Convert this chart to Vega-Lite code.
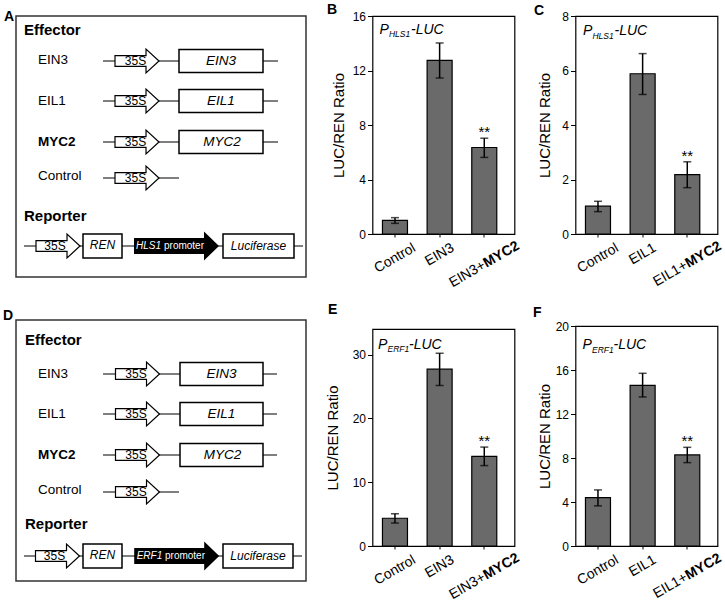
{
  "$schema": "https://vega.github.io/schema/vega-lite/v6.json",
  "background": "white",
  "padding": {"left": 2, "top": 2, "right": 0, "bottom": 0},
  "config": {"font": "Liberation Sans", "title": {"color": "black"}, "text": {"color": "black"}},
  "datasets": {
    "bars": [
      {"panel": "B", "cond": "Control", "base": "Control", "bold": "", "value": 1.0, "lo": 0.78, "hi": 1.2, "sig": ""},
      {"panel": "B", "cond": "EIN3", "base": "EIN3", "bold": "", "value": 12.75, "lo": 11.45, "hi": 14.02, "sig": ""},
      {"panel": "B", "cond": "EIN3+MYC2", "base": "EIN3+", "bold": "MYC2", "value": 6.35, "lo": 5.62, "hi": 7.03, "sig": "**"},
      {"panel": "C", "cond": "Control", "base": "Control", "bold": "", "value": 1.02, "lo": 0.82, "hi": 1.2, "sig": ""},
      {"panel": "C", "cond": "EIL1", "base": "EIL1", "bold": "", "value": 5.88, "lo": 5.12, "hi": 6.62, "sig": ""},
      {"panel": "C", "cond": "EIL1+MYC2", "base": "EIL1+", "bold": "MYC2", "value": 2.18, "lo": 1.7, "hi": 2.65, "sig": "**"},
      {"panel": "E", "cond": "Control", "base": "Control", "bold": "", "value": 4.35, "lo": 3.6, "hi": 5.05, "sig": ""},
      {"panel": "E", "cond": "EIN3", "base": "EIN3", "bold": "", "value": 27.7, "lo": 25.15, "hi": 30.2, "sig": ""},
      {"panel": "E", "cond": "EIN3+MYC2", "base": "EIN3+", "bold": "MYC2", "value": 14.05, "lo": 12.6, "hi": 15.5, "sig": "**"},
      {"panel": "F", "cond": "Control", "base": "Control", "bold": "", "value": 4.4, "lo": 3.65, "hi": 5.1, "sig": ""},
      {"panel": "F", "cond": "EIL1", "base": "EIL1", "bold": "", "value": 14.6, "lo": 13.55, "hi": 15.7, "sig": ""},
      {"panel": "F", "cond": "EIL1+MYC2", "base": "EIL1+", "bold": "MYC2", "value": 8.28, "lo": 7.58, "hi": 8.97, "sig": "**"}
    ],
    "diagram": [
      {"panel": "A", "kind": "heading", "label": "Effector", "x": 8, "y": 13.5},
      {"panel": "A", "kind": "heading", "label": "Reporter", "x": 8, "y": 200},
      {"panel": "A", "kind": "name", "label": "EIN3", "x": 22, "y": 43.5},
      {"panel": "A", "kind": "name", "label": "EIL1", "x": 22, "y": 85},
      {"panel": "A", "kind": "nameBold", "label": "MYC2", "x": 22, "y": 126},
      {"panel": "A", "kind": "name", "label": "Control", "x": 22, "y": 160},
      {"panel": "A", "kind": "line", "x": 87, "x2": 262, "y": 45},
      {"panel": "A", "kind": "line", "x": 87, "x2": 262, "y": 85},
      {"panel": "A", "kind": "line", "x": 87, "x2": 262, "y": 126},
      {"panel": "A", "kind": "line", "x": 87, "x2": 163, "y": 162},
      {"panel": "A", "kind": "line", "x": 8, "x2": 287, "y": 230},
      {"panel": "A", "kind": "p35S", "x": 121, "y": 45},
      {"panel": "A", "kind": "p35S", "x": 121, "y": 85},
      {"panel": "A", "kind": "p35S", "x": 121, "y": 126},
      {"panel": "A", "kind": "p35S", "x": 121, "y": 162},
      {"panel": "A", "kind": "p35S", "x": 42, "y": 230},
      {"panel": "A", "kind": "t35S", "label": "35S", "x": 119.5, "y": 45},
      {"panel": "A", "kind": "t35S", "label": "35S", "x": 119.5, "y": 85},
      {"panel": "A", "kind": "t35S", "label": "35S", "x": 119.5, "y": 126},
      {"panel": "A", "kind": "t35S", "label": "35S", "x": 119.5, "y": 162},
      {"panel": "A", "kind": "t35S", "label": "35S", "x": 39, "y": 230},
      {"panel": "A", "kind": "box", "x": 163, "x2": 247, "y": 33.5, "y2": 56.5},
      {"panel": "A", "kind": "box", "x": 163, "x2": 247, "y": 73.5, "y2": 96.5},
      {"panel": "A", "kind": "box", "x": 163, "x2": 247, "y": 114.5, "y2": 137.5},
      {"panel": "A", "kind": "box", "x": 67, "x2": 106, "y": 218, "y2": 242},
      {"panel": "A", "kind": "box", "x": 207, "x2": 278, "y": 218, "y2": 242},
      {"panel": "A", "kind": "gene", "label": "EIN3", "x": 205, "y": 45},
      {"panel": "A", "kind": "gene", "label": "EIL1", "x": 205, "y": 85},
      {"panel": "A", "kind": "gene", "label": "MYC2", "x": 206, "y": 126},
      {"panel": "A", "kind": "geneSmall", "label": "REN", "x": 86.5, "y": 229},
      {"panel": "A", "kind": "geneSmall", "label": "Luciferase", "x": 242.5, "y": 230},
      {"panel": "A", "kind": "promoter", "x": 160.5, "y": 230},
      {"panel": "A", "kind": "promName", "label": "HLS1", "x": 120, "y": 230},
      {"panel": "A", "kind": "promWord", "label": "promoter", "x": 148, "y": 230},
      {"panel": "D", "kind": "heading", "label": "Effector", "x": 9, "y": 20.3},
      {"panel": "D", "kind": "heading", "label": "Reporter", "x": 9, "y": 203.7},
      {"panel": "D", "kind": "name", "label": "EIN3", "x": 22, "y": 53.5},
      {"panel": "D", "kind": "name", "label": "EIL1", "x": 22, "y": 94},
      {"panel": "D", "kind": "nameBold", "label": "MYC2", "x": 22, "y": 135},
      {"panel": "D", "kind": "name", "label": "Control", "x": 22, "y": 170},
      {"panel": "D", "kind": "line", "x": 87, "x2": 261, "y": 54},
      {"panel": "D", "kind": "line", "x": 87, "x2": 261, "y": 94},
      {"panel": "D", "kind": "line", "x": 87, "x2": 261, "y": 135},
      {"panel": "D", "kind": "line", "x": 87, "x2": 163, "y": 172},
      {"panel": "D", "kind": "line", "x": 8, "x2": 286, "y": 236},
      {"panel": "D", "kind": "p35S", "x": 121.5, "y": 54},
      {"panel": "D", "kind": "p35S", "x": 121.5, "y": 94},
      {"panel": "D", "kind": "p35S", "x": 121.5, "y": 135},
      {"panel": "D", "kind": "p35S", "x": 121.5, "y": 172},
      {"panel": "D", "kind": "p35S", "x": 41.5, "y": 236},
      {"panel": "D", "kind": "t35S", "label": "35S", "x": 120, "y": 54},
      {"panel": "D", "kind": "t35S", "label": "35S", "x": 120, "y": 94},
      {"panel": "D", "kind": "t35S", "label": "35S", "x": 120, "y": 135},
      {"panel": "D", "kind": "t35S", "label": "35S", "x": 120, "y": 172},
      {"panel": "D", "kind": "t35S", "label": "35S", "x": 38.5, "y": 236},
      {"panel": "D", "kind": "box", "x": 164, "x2": 247, "y": 42.5, "y2": 65.5},
      {"panel": "D", "kind": "box", "x": 164, "x2": 247, "y": 82.5, "y2": 105.5},
      {"panel": "D", "kind": "box", "x": 164, "x2": 247, "y": 123.5, "y2": 146.5},
      {"panel": "D", "kind": "box", "x": 67, "x2": 106, "y": 224, "y2": 248},
      {"panel": "D", "kind": "box", "x": 207, "x2": 277, "y": 224, "y2": 248},
      {"panel": "D", "kind": "gene", "label": "EIN3", "x": 205.5, "y": 54},
      {"panel": "D", "kind": "gene", "label": "EIL1", "x": 205.5, "y": 94},
      {"panel": "D", "kind": "gene", "label": "MYC2", "x": 206.5, "y": 135},
      {"panel": "D", "kind": "geneSmall", "label": "REN", "x": 86.5, "y": 235},
      {"panel": "D", "kind": "geneSmall", "label": "Luciferase", "x": 242, "y": 236},
      {"panel": "D", "kind": "promoter", "x": 160.7, "y": 236},
      {"panel": "D", "kind": "promName", "label": "ERF1", "x": 120.7, "y": 236},
      {"panel": "D", "kind": "promWord", "label": "promoter", "x": 149, "y": 236}
    ]
  },
  "spacing": 17.5,
  "hconcat": [
    {
      "spacing": 30,
      "vconcat": [
        {
          "width": 290, "height": 261,
          "view": {"stroke": "#333333", "strokeWidth": 1.5},
          "title": {"text": "A", "anchor": "start", "frame": "bounds", "fontSize": 14, "fontWeight": "bold", "baseline": "alphabetic", "offset": -19, "dx": -12},
          "data": {"name": "diagram"},
          "transform": [{"filter": "datum.panel === 'A'"}],
          "encoding": {
            "x": {"field": "x", "type": "quantitative", "scale": {"domain": [0, 290], "nice": false, "zero": false}, "axis": null},
            "y": {"field": "y", "type": "quantitative", "scale": {"domain": [0, 261], "reverse": true, "nice": false, "zero": false}, "axis": null}
          },
          "layer": [
            {"transform": [{"filter": "datum.kind === 'line'"}], "mark": {"type": "rule", "color": "black", "strokeWidth": 1.2}, "encoding": {"x2": {"field": "x2"}}},
            {"transform": [{"filter": "datum.kind === 'box'"}], "mark": {"type": "rect", "fill": "white", "stroke": "black", "strokeWidth": 1.5}, "encoding": {"x2": {"field": "x2"}, "y2": {"field": "y2"}}},
            {"transform": [{"filter": "datum.kind === 'p35S'"}], "mark": {"type": "point", "shape": "M-1,-0.24L0.41,-0.24L0.41,-0.545L1,0L0.41,0.545L0.41,0.24L-1,0.24Z", "size": 1936, "filled": true, "fill": "white", "stroke": "black", "strokeWidth": 1.2, "opacity": 1}, "encoding": {}},
            {"transform": [{"filter": "datum.kind === 'promoter'"}], "mark": {"type": "point", "shape": "M-1,-0.188L0.647,-0.188L0.647,-0.341L1,0L0.647,0.341L0.647,0.188L-1,0.188Z", "size": 7225, "filled": true, "fill": "black", "opacity": 1}, "encoding": {}},
            {"transform": [{"filter": "datum.kind === 'heading'"}], "mark": {"type": "text", "align": "left", "baseline": "middle", "fontSize": 15, "fontWeight": "bold"}, "encoding": {"text": {"field": "label"}}},
            {"transform": [{"filter": "datum.kind === 'name'"}], "mark": {"type": "text", "align": "left", "baseline": "middle", "fontSize": 13.5}, "encoding": {"text": {"field": "label"}}},
            {"transform": [{"filter": "datum.kind === 'nameBold'"}], "mark": {"type": "text", "align": "left", "baseline": "middle", "fontSize": 13.5, "fontWeight": "bold"}, "encoding": {"text": {"field": "label"}}},
            {"transform": [{"filter": "datum.kind === 't35S'"}], "mark": {"type": "text", "align": "center", "baseline": "middle", "fontSize": 12}, "encoding": {"text": {"field": "label"}}},
            {"transform": [{"filter": "datum.kind === 'gene'"}], "mark": {"type": "text", "align": "center", "baseline": "middle", "fontSize": 13.5, "fontStyle": "italic"}, "encoding": {"text": {"field": "label"}}},
            {"transform": [{"filter": "datum.kind === 'geneSmall'"}], "mark": {"type": "text", "align": "center", "baseline": "middle", "fontSize": 12, "fontStyle": "italic"}, "encoding": {"text": {"field": "label"}}},
            {"transform": [{"filter": "datum.kind === 'promName'"}], "mark": {"type": "text", "align": "left", "baseline": "middle", "fontSize": 10, "fontStyle": "italic", "color": "white"}, "encoding": {"text": {"field": "label"}}},
            {"transform": [{"filter": "datum.kind === 'promWord'"}], "mark": {"type": "text", "align": "left", "baseline": "middle", "fontSize": 10, "color": "white"}, "encoding": {"text": {"field": "label"}}}
          ]
        },
        {
          "width": 290, "height": 261,
          "view": {"stroke": "#333333", "strokeWidth": 1.5},
          "title": {"text": "D", "anchor": "start", "frame": "bounds", "fontSize": 14, "fontWeight": "bold", "baseline": "alphabetic", "offset": -14, "dx": -13},
          "data": {"name": "diagram"},
          "transform": [{"filter": "datum.panel === 'D'"}],
          "encoding": {
            "x": {"field": "x", "type": "quantitative", "scale": {"domain": [0, 290], "nice": false, "zero": false}, "axis": null},
            "y": {"field": "y", "type": "quantitative", "scale": {"domain": [0, 261], "reverse": true, "nice": false, "zero": false}, "axis": null}
          },
          "layer": [
            {"transform": [{"filter": "datum.kind === 'line'"}], "mark": {"type": "rule", "color": "black", "strokeWidth": 1.2}, "encoding": {"x2": {"field": "x2"}}},
            {"transform": [{"filter": "datum.kind === 'box'"}], "mark": {"type": "rect", "fill": "white", "stroke": "black", "strokeWidth": 1.5}, "encoding": {"x2": {"field": "x2"}, "y2": {"field": "y2"}}},
            {"transform": [{"filter": "datum.kind === 'p35S'"}], "mark": {"type": "point", "shape": "M-1,-0.24L0.41,-0.24L0.41,-0.545L1,0L0.41,0.545L0.41,0.24L-1,0.24Z", "size": 1936, "filled": true, "fill": "white", "stroke": "black", "strokeWidth": 1.2, "opacity": 1}, "encoding": {}},
            {"transform": [{"filter": "datum.kind === 'promoter'"}], "mark": {"type": "point", "shape": "M-1,-0.188L0.647,-0.188L0.647,-0.341L1,0L0.647,0.341L0.647,0.188L-1,0.188Z", "size": 7225, "filled": true, "fill": "black", "opacity": 1}, "encoding": {}},
            {"transform": [{"filter": "datum.kind === 'heading'"}], "mark": {"type": "text", "align": "left", "baseline": "middle", "fontSize": 15, "fontWeight": "bold"}, "encoding": {"text": {"field": "label"}}},
            {"transform": [{"filter": "datum.kind === 'name'"}], "mark": {"type": "text", "align": "left", "baseline": "middle", "fontSize": 13.5}, "encoding": {"text": {"field": "label"}}},
            {"transform": [{"filter": "datum.kind === 'nameBold'"}], "mark": {"type": "text", "align": "left", "baseline": "middle", "fontSize": 13.5, "fontWeight": "bold"}, "encoding": {"text": {"field": "label"}}},
            {"transform": [{"filter": "datum.kind === 't35S'"}], "mark": {"type": "text", "align": "center", "baseline": "middle", "fontSize": 12}, "encoding": {"text": {"field": "label"}}},
            {"transform": [{"filter": "datum.kind === 'gene'"}], "mark": {"type": "text", "align": "center", "baseline": "middle", "fontSize": 13.5, "fontStyle": "italic"}, "encoding": {"text": {"field": "label"}}},
            {"transform": [{"filter": "datum.kind === 'geneSmall'"}], "mark": {"type": "text", "align": "center", "baseline": "middle", "fontSize": 12, "fontStyle": "italic"}, "encoding": {"text": {"field": "label"}}},
            {"transform": [{"filter": "datum.kind === 'promName'"}], "mark": {"type": "text", "align": "left", "baseline": "middle", "fontSize": 10, "fontStyle": "italic", "color": "white"}, "encoding": {"text": {"field": "label"}}},
            {"transform": [{"filter": "datum.kind === 'promWord'"}], "mark": {"type": "text", "align": "left", "baseline": "middle", "fontSize": 10, "color": "white"}, "encoding": {"text": {"field": "label"}}}
          ]
        }
      ]
    },
    {
      "spacing": 9,
      "hconcat": [
        {
          "spacing": 11,
          "vconcat": [
            {
              "width": 142, "height": 218,
              "view": {"stroke": "black", "strokeWidth": 1.2},
              "title": {"text": "B", "anchor": "start", "frame": "bounds", "fontSize": 14, "fontWeight": "bold", "baseline": "alphabetic", "offset": -18, "dx": -4.5},
              "data": {"name": "bars"},
              "transform": [{"filter": "datum.panel === 'B'"}],
              "encoding": {
                "x": {"field": "cond", "type": "nominal", "sort": null, "title": null, "scale": {"paddingInner": 0.44, "paddingOuter": 0.31, "align": 0.36}, "axis": {"labels": false, "domain": false, "ticks": true, "tickSize": 3, "tickColor": "black"}}
              },
              "layer": [
                {"mark": {"type": "bar", "fill": "#6a6a6a", "stroke": "black", "strokeWidth": 1.2},
                 "encoding": {"y": {"field": "value", "type": "quantitative", "title": "LUC/REN Ratio", "scale": {"domain": [0, 16], "nice": false},
                   "axis": {"values": [0,1,2,3,4,5,6,7,8,9,10,11,12,13,14,15,16], "labelExpr": "datum.value % 4 === 0 ? datum.label : ''", "tickSize": {"condition": {"test": "datum.value % 4 === 0", "value": 5}, "value": 3}, "grid": false, "domain": false, "labelFontSize": 12, "labelPadding": 2, "titleFontSize": 15, "titleFontWeight": "normal", "titleX": -34, "titleY": 109, "titleAngle": -90, "titleAlign": "center", "titleBaseline": "middle", "tickColor": "black", "labelColor": "black", "titleColor": "black"}}}},
                {"mark": {"type": "errorbar", "ticks": {"size": 8, "thickness": 1.5, "color": "black"}, "rule": {"strokeWidth": 1.5, "color": "black"}},
                 "encoding": {"y": {"field": "lo", "type": "quantitative", "title": "LUC/REN Ratio"}, "y2": {"field": "hi"}}},
                {"transform": [{"filter": "datum.sig !== ''"}], "mark": {"type": "text", "fontSize": 15, "baseline": "alphabetic", "dy": -1},
                 "encoding": {"y": {"field": "hi", "type": "quantitative", "title": "LUC/REN Ratio"}, "text": {"field": "sig"}}},
                {"transform": [{"filter": "datum.cond === 'Control'"}], "mark": {"type": "text", "text": "P", "fontSize": 14, "fontStyle": "italic", "align": "left", "baseline": "alphabetic", "dx": -15.5},
                 "encoding": {"y": {"datum": 14.68, "type": "quantitative"}}},
                {"transform": [{"filter": "datum.cond === 'Control'"}], "mark": {"type": "text", "text": "HLS1", "fontSize": 8.5, "fontStyle": "italic", "align": "left", "baseline": "alphabetic", "dx": -6, "dy": 3.5},
                 "encoding": {"y": {"datum": 14.68, "type": "quantitative"}}},
                {"transform": [{"filter": "datum.cond === 'Control'"}], "mark": {"type": "text", "text": "-LUC", "fontSize": 14, "fontStyle": "italic", "align": "left", "baseline": "alphabetic", "dx": 16},
                 "encoding": {"y": {"datum": 14.68, "type": "quantitative"}}},
                {"transform": [{"filter": "datum.cond === 'Control'"}], "mark": {"type": "text", "angle": -30, "align": "center", "baseline": "middle", "dx": -12.15, "dy": 21, "fontSize": 14},
                 "encoding": {"y": {"datum": 0, "type": "quantitative"}, "text": {"field": "base"}}},
                {"transform": [{"filter": "datum.bold === '' && datum.cond !== 'Control'"}], "mark": {"type": "text", "angle": -30, "align": "center", "baseline": "middle", "dx": -10.4, "dy": 18, "fontSize": 14},
                 "encoding": {"y": {"datum": 0, "type": "quantitative"}, "text": {"field": "base"}}},
                {"transform": [{"filter": "datum.bold !== ''"}], "mark": {"type": "text", "angle": -30, "align": "left", "baseline": "middle", "dx": -54.35, "dy": 26.4, "fontSize": 14},
                 "encoding": {"y": {"datum": 0, "type": "quantitative"}, "text": {"field": "base"}}},
                {"transform": [{"filter": "datum.bold !== ''"}], "mark": {"type": "text", "angle": -30, "align": "right", "baseline": "middle", "dx": 23.85, "dy": 26.4, "fontSize": 14, "fontWeight": "bold"},
                 "encoding": {"y": {"datum": 0, "type": "quantitative"}, "text": {"field": "bold"}}}
              ]
            },
            {
              "width": 142, "height": 217,
              "view": {"stroke": "black", "strokeWidth": 1.2},
              "title": {"text": "E", "anchor": "start", "frame": "bounds", "fontSize": 14, "fontWeight": "bold", "baseline": "alphabetic", "offset": 1, "dx": 2.5},
              "data": {"name": "bars"},
              "transform": [{"filter": "datum.panel === 'E'"}],
              "encoding": {
                "x": {"field": "cond", "type": "nominal", "sort": null, "title": null, "scale": {"paddingInner": 0.44, "paddingOuter": 0.31, "align": 0.36}, "axis": {"labels": false, "domain": false, "ticks": true, "tickSize": 3, "tickColor": "black"}}
              },
              "layer": [
                {"mark": {"type": "bar", "fill": "#6a6a6a", "stroke": "black", "strokeWidth": 1.2},
                 "encoding": {"y": {"field": "value", "type": "quantitative", "title": "LUC/REN Ratio", "scale": {"domain": [0, 34], "nice": false},
                   "axis": {"values": [0,2.5,5,7.5,10,12.5,15,17.5,20,22.5,25,27.5,30,32.5], "labelExpr": "datum.value % 5 === 0 ? datum.label : ''", "tickSize": {"condition": {"test": "datum.value % 5 === 0", "value": 5}, "value": 3}, "grid": false, "domain": false, "labelFontSize": 12, "labelPadding": 2, "titleFontSize": 15, "titleFontWeight": "normal", "titleX": -40, "titleY": 108.5, "titleAngle": -90, "titleAlign": "center", "titleBaseline": "middle", "tickColor": "black", "labelColor": "black", "titleColor": "black"}}}},
                {"mark": {"type": "errorbar", "ticks": {"size": 8, "thickness": 1.5, "color": "black"}, "rule": {"strokeWidth": 1.5, "color": "black"}},
                 "encoding": {"y": {"field": "lo", "type": "quantitative", "title": "LUC/REN Ratio"}, "y2": {"field": "hi"}}},
                {"transform": [{"filter": "datum.sig !== ''"}], "mark": {"type": "text", "fontSize": 15, "baseline": "alphabetic", "dy": -1},
                 "encoding": {"y": {"field": "hi", "type": "quantitative", "title": "LUC/REN Ratio"}, "text": {"field": "sig"}}},
                {"transform": [{"filter": "datum.cond === 'Control'"}], "mark": {"type": "text", "text": "P", "fontSize": 14, "fontStyle": "italic", "align": "left", "baseline": "alphabetic", "dx": -17},
                 "encoding": {"y": {"datum": 30.9, "type": "quantitative"}}},
                {"transform": [{"filter": "datum.cond === 'Control'"}], "mark": {"type": "text", "text": "ERF1", "fontSize": 8.5, "fontStyle": "italic", "align": "left", "baseline": "alphabetic", "dx": -7.5, "dy": 3.5},
                 "encoding": {"y": {"datum": 30.9, "type": "quantitative"}}},
                {"transform": [{"filter": "datum.cond === 'Control'"}], "mark": {"type": "text", "text": "-LUC", "fontSize": 14, "fontStyle": "italic", "align": "left", "baseline": "alphabetic", "dx": 14},
                 "encoding": {"y": {"datum": 30.9, "type": "quantitative"}}},
                {"transform": [{"filter": "datum.cond === 'Control'"}], "mark": {"type": "text", "angle": -30, "align": "center", "baseline": "middle", "dx": -12.15, "dy": 21, "fontSize": 14},
                 "encoding": {"y": {"datum": 0, "type": "quantitative"}, "text": {"field": "base"}}},
                {"transform": [{"filter": "datum.bold === '' && datum.cond !== 'Control'"}], "mark": {"type": "text", "angle": -30, "align": "center", "baseline": "middle", "dx": -10.4, "dy": 18, "fontSize": 14},
                 "encoding": {"y": {"datum": 0, "type": "quantitative"}, "text": {"field": "base"}}},
                {"transform": [{"filter": "datum.bold !== ''"}], "mark": {"type": "text", "angle": -30, "align": "left", "baseline": "middle", "dx": -54.35, "dy": 26.4, "fontSize": 14},
                 "encoding": {"y": {"datum": 0, "type": "quantitative"}, "text": {"field": "base"}}},
                {"transform": [{"filter": "datum.bold !== ''"}], "mark": {"type": "text", "angle": -30, "align": "right", "baseline": "middle", "dx": 23.85, "dy": 26.4, "fontSize": 14, "fontWeight": "bold"},
                 "encoding": {"y": {"datum": 0, "type": "quantitative"}, "text": {"field": "bold"}}}
              ]
            }
          ]
        },
        {
          "spacing": 15,
          "vconcat": [
            {
              "width": 142, "height": 218,
              "view": {"stroke": "black", "strokeWidth": 1.2},
              "title": {"text": "C", "anchor": "start", "frame": "bounds", "fontSize": 14, "fontWeight": "bold", "baseline": "alphabetic", "offset": -19, "dx": -3.5},
              "data": {"name": "bars"},
              "transform": [{"filter": "datum.panel === 'C'"}],
              "encoding": {
                "x": {"field": "cond", "type": "nominal", "sort": null, "title": null, "scale": {"paddingInner": 0.44, "paddingOuter": 0.31, "align": 0.36}, "axis": {"labels": false, "domain": false, "ticks": true, "tickSize": 3, "tickColor": "black"}}
              },
              "layer": [
                {"mark": {"type": "bar", "fill": "#6a6a6a", "stroke": "black", "strokeWidth": 1.2},
                 "encoding": {"y": {"field": "value", "type": "quantitative", "title": "LUC/REN Ratio", "scale": {"domain": [0, 8], "nice": false},
                   "axis": {"values": [0,0.5,1,1.5,2,2.5,3,3.5,4,4.5,5,5.5,6,6.5,7,7.5,8], "labelExpr": "datum.value % 1 === 0 ? datum.label : ''", "tickSize": {"condition": {"test": "datum.value % 1 === 0", "value": 5}, "value": 3}, "grid": false, "domain": false, "labelFontSize": 12, "labelPadding": 2, "titleFontSize": 15, "titleFontWeight": "normal", "titleX": -31, "titleY": 109, "titleAngle": -90, "titleAlign": "center", "titleBaseline": "middle", "tickColor": "black", "labelColor": "black", "titleColor": "black"}}}},
                {"mark": {"type": "errorbar", "ticks": {"size": 8, "thickness": 1.5, "color": "black"}, "rule": {"strokeWidth": 1.5, "color": "black"}},
                 "encoding": {"y": {"field": "lo", "type": "quantitative", "title": "LUC/REN Ratio"}, "y2": {"field": "hi"}}},
                {"transform": [{"filter": "datum.sig !== ''"}], "mark": {"type": "text", "fontSize": 15, "baseline": "alphabetic", "dy": -1},
                 "encoding": {"y": {"field": "hi", "type": "quantitative", "title": "LUC/REN Ratio"}, "text": {"field": "sig"}}},
                {"transform": [{"filter": "datum.cond === 'Control'"}], "mark": {"type": "text", "text": "P", "fontSize": 14, "fontStyle": "italic", "align": "left", "baseline": "alphabetic", "dx": -15},
                 "encoding": {"y": {"datum": 7.29, "type": "quantitative"}}},
                {"transform": [{"filter": "datum.cond === 'Control'"}], "mark": {"type": "text", "text": "HLS1", "fontSize": 8.5, "fontStyle": "italic", "align": "left", "baseline": "alphabetic", "dx": -5.5, "dy": 3.5},
                 "encoding": {"y": {"datum": 7.29, "type": "quantitative"}}},
                {"transform": [{"filter": "datum.cond === 'Control'"}], "mark": {"type": "text", "text": "-LUC", "fontSize": 14, "fontStyle": "italic", "align": "left", "baseline": "alphabetic", "dx": 16.5},
                 "encoding": {"y": {"datum": 7.29, "type": "quantitative"}}},
                {"transform": [{"filter": "datum.cond === 'Control'"}], "mark": {"type": "text", "angle": -30, "align": "center", "baseline": "middle", "dx": -12.15, "dy": 21, "fontSize": 14},
                 "encoding": {"y": {"datum": 0, "type": "quantitative"}, "text": {"field": "base"}}},
                {"transform": [{"filter": "datum.bold === '' && datum.cond !== 'Control'"}], "mark": {"type": "text", "angle": -30, "align": "center", "baseline": "middle", "dx": -10.1, "dy": 17.5, "fontSize": 14},
                 "encoding": {"y": {"datum": 0, "type": "quantitative"}, "text": {"field": "base"}}},
                {"transform": [{"filter": "datum.bold !== ''"}], "mark": {"type": "text", "angle": -30, "align": "left", "baseline": "middle", "dx": -52.95, "dy": 26, "fontSize": 14},
                 "encoding": {"y": {"datum": 0, "type": "quantitative"}, "text": {"field": "base"}}},
                {"transform": [{"filter": "datum.bold !== ''"}], "mark": {"type": "text", "angle": -30, "align": "right", "baseline": "middle", "dx": 22.95, "dy": 26, "fontSize": 14, "fontWeight": "bold"},
                 "encoding": {"y": {"datum": 0, "type": "quantitative"}, "text": {"field": "bold"}}}
              ]
            },
            {
              "width": 142, "height": 220,
              "view": {"stroke": "black", "strokeWidth": 1.2},
              "title": {"text": "F", "anchor": "start", "frame": "bounds", "fontSize": 14, "fontWeight": "bold", "baseline": "alphabetic", "offset": -11, "dx": -4.5},
              "data": {"name": "bars"},
              "transform": [{"filter": "datum.panel === 'F'"}],
              "encoding": {
                "x": {"field": "cond", "type": "nominal", "sort": null, "title": null, "scale": {"paddingInner": 0.44, "paddingOuter": 0.31, "align": 0.36}, "axis": {"labels": false, "domain": false, "ticks": true, "tickSize": 3, "tickColor": "black"}}
              },
              "layer": [
                {"mark": {"type": "bar", "fill": "#6a6a6a", "stroke": "black", "strokeWidth": 1.2},
                 "encoding": {"y": {"field": "value", "type": "quantitative", "title": "LUC/REN Ratio", "scale": {"domain": [0, 20], "nice": false},
                   "axis": {"values": [0,2,4,6,8,10,12,14,16,18,20], "labelExpr": "datum.value % 4 === 0 ? datum.label : ''", "tickSize": {"condition": {"test": "datum.value % 4 === 0", "value": 5}, "value": 3}, "grid": false, "domain": false, "labelFontSize": 12, "labelPadding": 2, "titleFontSize": 15, "titleFontWeight": "normal", "titleX": -31, "titleY": 110, "titleAngle": -90, "titleAlign": "center", "titleBaseline": "middle", "tickColor": "black", "labelColor": "black", "titleColor": "black"}}}},
                {"mark": {"type": "errorbar", "ticks": {"size": 8, "thickness": 1.5, "color": "black"}, "rule": {"strokeWidth": 1.5, "color": "black"}},
                 "encoding": {"y": {"field": "lo", "type": "quantitative", "title": "LUC/REN Ratio"}, "y2": {"field": "hi"}}},
                {"transform": [{"filter": "datum.sig !== ''"}], "mark": {"type": "text", "fontSize": 15, "baseline": "alphabetic", "dy": -1},
                 "encoding": {"y": {"field": "hi", "type": "quantitative", "title": "LUC/REN Ratio"}, "text": {"field": "sig"}}},
                {"transform": [{"filter": "datum.cond === 'Control'"}], "mark": {"type": "text", "text": "P", "fontSize": 14, "fontStyle": "italic", "align": "left", "baseline": "alphabetic", "dx": -15.5},
                 "encoding": {"y": {"datum": 17.9, "type": "quantitative"}}},
                {"transform": [{"filter": "datum.cond === 'Control'"}], "mark": {"type": "text", "text": "ERF1", "fontSize": 8.5, "fontStyle": "italic", "align": "left", "baseline": "alphabetic", "dx": -6, "dy": 3.5},
                 "encoding": {"y": {"datum": 17.9, "type": "quantitative"}}},
                {"transform": [{"filter": "datum.cond === 'Control'"}], "mark": {"type": "text", "text": "-LUC", "fontSize": 14, "fontStyle": "italic", "align": "left", "baseline": "alphabetic", "dx": 15.5},
                 "encoding": {"y": {"datum": 17.9, "type": "quantitative"}}},
                {"transform": [{"filter": "datum.cond === 'Control'"}], "mark": {"type": "text", "angle": -30, "align": "center", "baseline": "middle", "dx": -12.15, "dy": 21, "fontSize": 14},
                 "encoding": {"y": {"datum": 0, "type": "quantitative"}, "text": {"field": "base"}}},
                {"transform": [{"filter": "datum.bold === '' && datum.cond !== 'Control'"}], "mark": {"type": "text", "angle": -30, "align": "center", "baseline": "middle", "dx": -10.1, "dy": 17.5, "fontSize": 14},
                 "encoding": {"y": {"datum": 0, "type": "quantitative"}, "text": {"field": "base"}}},
                {"transform": [{"filter": "datum.bold !== ''"}], "mark": {"type": "text", "angle": -30, "align": "left", "baseline": "middle", "dx": -52.95, "dy": 26, "fontSize": 14},
                 "encoding": {"y": {"datum": 0, "type": "quantitative"}, "text": {"field": "base"}}},
                {"transform": [{"filter": "datum.bold !== ''"}], "mark": {"type": "text", "angle": -30, "align": "right", "baseline": "middle", "dx": 22.95, "dy": 26, "fontSize": 14, "fontWeight": "bold"},
                 "encoding": {"y": {"datum": 0, "type": "quantitative"}, "text": {"field": "bold"}}}
              ]
            }
          ]
        }
      ]
    }
  ]
}
